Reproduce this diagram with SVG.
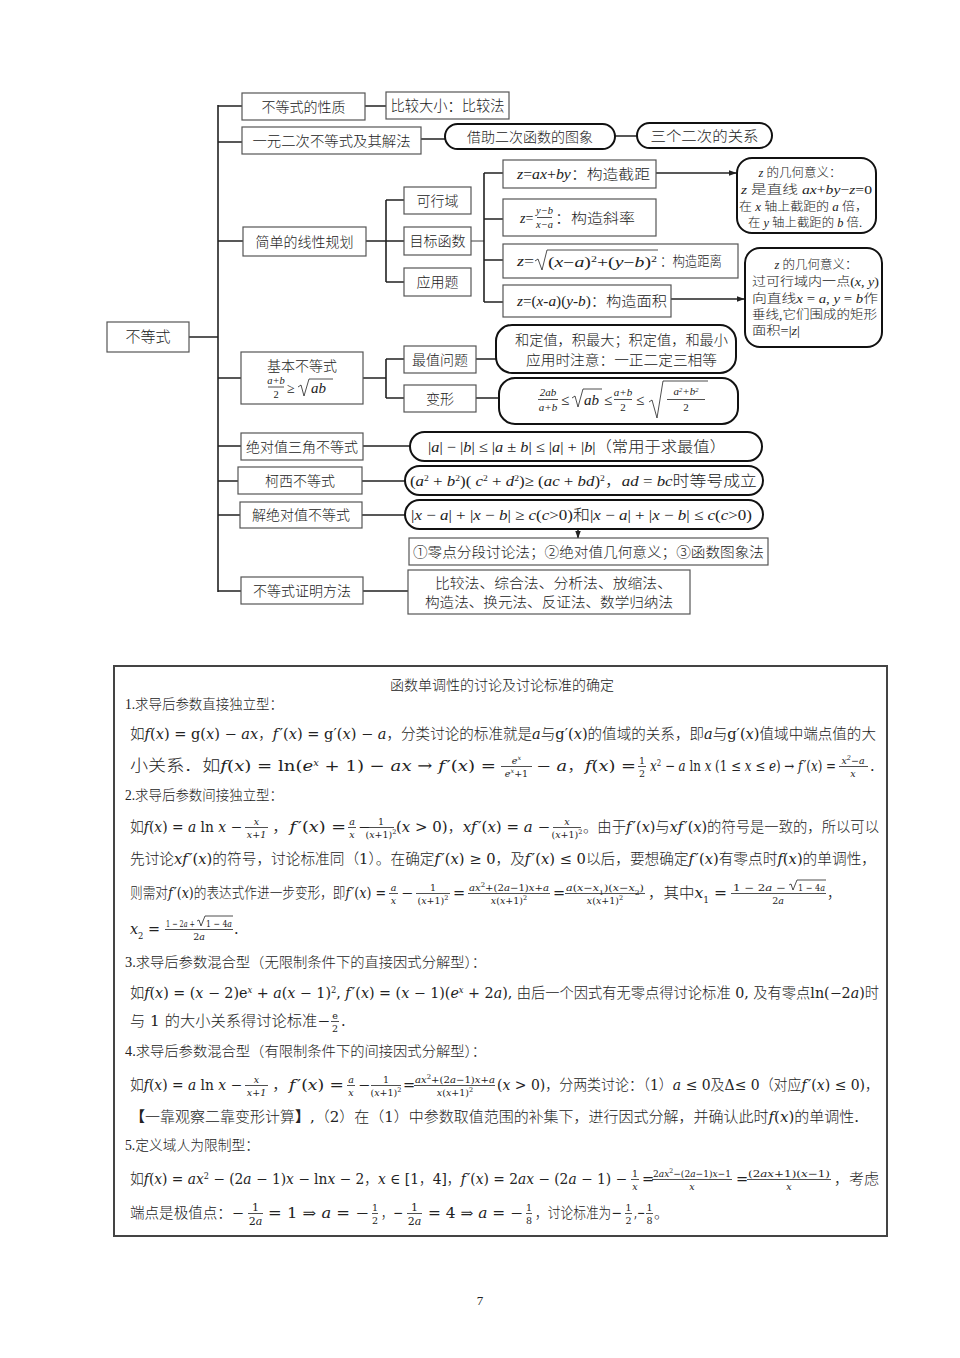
<svg xmlns="http://www.w3.org/2000/svg" width="960" height="1358" viewBox="0 0 960 1358">
<defs>
<marker id="ah" viewBox="0 0 10 10" refX="9" refY="5" markerWidth="8" markerHeight="8" orient="auto" markerUnits="userSpaceOnUse"><path d="M0,1.5 L10,5 L0,8.5 z" fill="#222"/></marker>
<style>
text{font-family:"Liberation Serif","Noto Sans CJK SC",serif;fill:#222;font-weight:300}
.tr{font-size:14px}
.c{text-anchor:middle}
.b{font-family:"DejaVu Serif","Noto Sans CJK SC",serif;font-size:14.5px}
.h{font-size:14px}
.f{font-family:"DejaVu Serif","Noto Sans CJK SC",serif;font-size:9.5px;text-anchor:middle}
.fs{font-family:"DejaVu Serif","Noto Sans CJK SC",serif;font-size:9.5px;text-anchor:start}
.fl{font-family:"DejaVu Serif","Noto Sans CJK SC",serif;font-size:11px;text-anchor:middle}
.tf{font-size:10.5px;text-anchor:middle}
.tf2{font-size:11px;text-anchor:middle}
.n{font-size:12.5px}
.i{font-style:italic}
.sp{font-size:8.5px;baseline-shift:super}
.sq{font-size:6.5px;baseline-shift:super}
.sb{font-size:8.5px;baseline-shift:sub}
.sbq{font-size:6.5px;baseline-shift:sub}
.bx{fill:#fff;stroke:#555;stroke-width:1.2}
.pl{fill:#fff;stroke:#111;stroke-width:2}
.ln{stroke:#222;stroke-width:1.6;fill:none}
.br{stroke:#222;stroke-width:0.8;fill:none}
.bd{font-weight:bold}
</style>
</defs>
<rect width="960" height="1358" fill="#fff"/>

<g id="connectors">
<path class="ln" d="M189 337 H218 M218 105 V592"/>
<path class="ln" d="M218 106 H242 M365 106 H386"/>
<path class="ln" d="M218 142 H242 M421 139 H445 M615 136 H637"/>
<path class="ln" d="M218 241 H243 M366 241 H404 M386 200 V282 M386 200 H404 M386 282 H404"/>
<path d="M471 241 H484" stroke="#888" stroke-width="1.6" fill="none"/>
<path class="ln" d="M484 173 V302 M484 173 H503 M484 219 H503 M484 260 H503 M484 302 H503"/>
<path class="ln" d="M656 173 H736" marker-end="url(#ah)"/>
<path class="ln" d="M671 299 H744" marker-end="url(#ah)"/>
<path class="ln" d="M218 378 H241 M363 378 H386 M386 359 V398 M386 359 H404 M386 398 H404 M476 359 H496 M476 398 H499"/>
<path class="ln" d="M218 446 H241 M363 446 H410"/>
<path class="ln" d="M218 481 H238 M362 481 H405"/>
<path class="ln" d="M218 515 H240 M362 515 H405"/>
<path class="ln" d="M578 529 V538" marker-end="url(#ah)"/>
<path class="ln" d="M218 591 H241 M363 591 H408"/>
</g>

<g id="n-root"><rect class="bx" x="107" y="322" width="82" height="30"/><text class="c" x="148" y="342" font-size="15">不等式</text></g>
<g id="n-xingzhi"><rect class="bx" x="242" y="93" width="123" height="27"/><text class="tr c" x="303.5" y="111.5">不等式的性质</text></g>
<g id="n-bijiao"><rect class="bx" x="386" y="92" width="123" height="27"/><text class="c" x="447.5" y="110.5" font-size="15" textLength="114" lengthAdjust="spacingAndGlyphs">比较大小：比较法</text></g>
<g id="n-yiyuan"><rect class="bx" x="242" y="127" width="179" height="27"/><text class="tr c" x="331.5" y="145.5" textLength="158" lengthAdjust="spacingAndGlyphs">一元二次不等式及其解法</text></g>
<g id="n-jiezhu"><rect class="pl" x="445" y="124" width="170" height="25" rx="12.5"/><text class="tr c" x="530" y="141.5">借助二次函数的图象</text></g>
<g id="n-sange"><rect class="pl" x="637" y="123" width="135" height="25" rx="12.5"/><text class="tr c" x="704.5" y="140.5" textLength="108" lengthAdjust="spacingAndGlyphs">三个二次的关系</text></g>
<g id="n-xianxing"><rect class="bx" x="243" y="227" width="123" height="29"/><text class="tr c" x="304.5" y="246.5">简单的线性规划</text></g>
<g id="n-kexing"><rect class="bx" x="404" y="187" width="67" height="27"/><text class="tr c" x="437.5" y="205.5">可行域</text></g>
<g id="n-mubiao"><rect class="bx" x="404" y="227" width="67" height="28"/><text class="tr c" x="437.5" y="246">目标函数</text></g>
<g id="n-yingyong"><rect class="bx" x="404" y="268" width="67" height="28"/><text class="tr c" x="437.5" y="287">应用题</text></g>

<g id="n-z1"><rect class="bx" x="503" y="160" width="153" height="28"/><text class="tr" x="517" y="179" textLength="133" lengthAdjust="spacingAndGlyphs"><tspan class="i">z</tspan>=<tspan class="i">ax</tspan>+<tspan class="i">by</tspan>：构造截距</text></g>
<g id="n-z2"><rect class="bx" x="503" y="199" width="153" height="37"/><text class="tr" x="520" y="223"><tspan class="i">z</tspan>=</text><text class="tf i" x="544.5" y="214">y−b</text><line class="br" x1="537" x2="552" y1="217.5" y2="217.5"/><text class="tf i" x="544.5" y="228">x−a</text><text class="tr" x="555" y="223" textLength="80" lengthAdjust="spacingAndGlyphs">：构造斜率</text></g>
<g id="n-z3"><rect class="bx" x="503" y="244" width="235" height="34"/><text class="tr" x="517" y="266" textLength="17" lengthAdjust="spacingAndGlyphs"><tspan class="i">z</tspan>=</text><path class="br" d="M535 261 L538 259 L542 270 L547 250 H658" stroke-width="1"/><text class="tr" x="548" y="267" textLength="109" lengthAdjust="spacingAndGlyphs">(<tspan class="i">x</tspan>−<tspan class="i">a</tspan>)<tspan class="sp">2</tspan>+(<tspan class="i">y</tspan>−<tspan class="i">b</tspan>)<tspan class="sp">2</tspan></text><text class="tr" x="660" y="266" textLength="62" lengthAdjust="spacingAndGlyphs">：构造距离</text></g>
<g id="n-z4"><rect class="bx" x="503" y="285" width="168" height="32"/><text class="tr" x="517" y="306" textLength="150" lengthAdjust="spacingAndGlyphs"><tspan class="i">z</tspan>=(<tspan class="i">x-a</tspan>)(<tspan class="i">y-b</tspan>)：构造面积</text></g>

<g id="n-note1"><rect class="pl" x="737" y="158" width="139" height="75" rx="15"/>
<text class="n c" x="800" y="177"><tspan class="i">z</tspan> 的几何意义：</text>
<text class="n" x="741" y="194" textLength="131" lengthAdjust="spacingAndGlyphs"><tspan class="i">z</tspan> 是直线 <tspan class="i">ax</tspan>+<tspan class="i">by</tspan>−<tspan class="i">z</tspan>=0</text>
<text class="n" x="739" y="211" textLength="129" lengthAdjust="spacingAndGlyphs">在 <tspan class="i">x</tspan> 轴上截距的 <tspan class="i">a</tspan> 倍，</text>
<text class="n" x="748" y="227" textLength="114" lengthAdjust="spacingAndGlyphs">在 <tspan class="i">y</tspan> 轴上截距的 <tspan class="i">b</tspan> 倍.</text></g>

<g id="n-note2"><rect class="pl" x="745" y="248" width="137" height="99" rx="15"/>
<text class="n c" x="816" y="269"><tspan class="i">z</tspan> 的几何意义：</text>
<text class="n" x="752" y="286" textLength="127" lengthAdjust="spacingAndGlyphs">过可行域内一点(<tspan class="i">x</tspan>, <tspan class="i">y</tspan>)</text>
<text class="n" x="752" y="303" textLength="126" lengthAdjust="spacingAndGlyphs">向直线<tspan class="i">x</tspan> = <tspan class="i">a</tspan>, <tspan class="i">y</tspan> = <tspan class="i">b</tspan>作</text>
<text class="n" x="752" y="319" textLength="125" lengthAdjust="spacingAndGlyphs">垂线,它们围成的矩形</text>
<text class="n" x="752" y="335" textLength="48" lengthAdjust="spacingAndGlyphs">面积=|<tspan class="i">z</tspan>|</text></g>

<g id="n-jiben"><rect class="bx" x="241" y="352" width="122" height="52"/><text class="tr c" x="302" y="371">基本不等式</text>
<text class="tf i" x="276" y="384">a+b</text><line class="br" x1="268" x2="284" y1="387" y2="387"/><text class="tf" x="276" y="398">2</text>
<text x="287" y="393" font-size="14">≥</text><path class="br" d="M298 387 L301 385 L304 396 L309 379 H333" stroke-width="1"/><text class="i" x="311" y="393" font-size="15">ab</text></g>
<g id="n-zuizhi"><rect class="bx" x="404" y="346" width="72" height="27"/><text class="tr c" x="440" y="364.5">最值问题</text></g>
<g id="n-bianxing"><rect class="bx" x="404" y="385" width="72" height="27"/><text class="tr c" x="440" y="403.5">变形</text></g>
<g id="n-hedingzhi"><rect class="pl" x="496" y="325" width="240" height="48" rx="16"/>
<text class="tr" x="515" y="345" textLength="213" lengthAdjust="spacingAndGlyphs">和定值，积最大；积定值，和最小</text>
<text class="tr" x="526" y="365" textLength="191" lengthAdjust="spacingAndGlyphs">应用时注意：一正二定三相等</text></g>
<g id="n-bianxingf"><rect class="pl" x="499" y="378" width="239" height="46" rx="16"/>
<text class="tf2 i" x="548" y="396">2ab</text><line class="br" x1="538" x2="558" y1="399.5" y2="399.5"/><text class="tf2 i" x="548" y="411">a+b</text>
<text x="561" y="405" font-size="15">≤</text>
<path class="br" d="M572 398 L575 396 L578 407 L583 389 H602" stroke-width="1"/><text class="i" x="584" y="405" font-size="15">ab</text>
<text x="604" y="405" font-size="15">≤</text>
<text class="tf2 i" x="623" y="396">a+b</text><line class="br" x1="614" x2="632" y1="399.5" y2="399.5"/><text class="tf2" x="623" y="411">2</text>
<text x="636" y="405" font-size="15">≤</text>
<path class="br" d="M649 402 L652 400 L657 418 L663 381 H708" stroke-width="1"/>
<text class="tf2 i" x="686" y="395">a<tspan class="sq">2</tspan>+b<tspan class="sq">2</tspan></text><line class="br" x1="667" x2="705" y1="399.5" y2="399.5"/><text class="tf2" x="686" y="411">2</text></g>

<g id="n-sanjiao"><rect class="bx" x="241" y="433" width="122" height="27"/><text class="tr c" x="302" y="451.5">绝对值三角不等式</text></g>
<g id="n-sanjiaof"><rect class="pl" x="410" y="432" width="352" height="29" rx="14.5"/><text x="428" y="451.5" font-size="15" textLength="298" lengthAdjust="spacingAndGlyphs">|<tspan class="i">a</tspan>| − |<tspan class="i">b</tspan>| ≤ |<tspan class="i">a</tspan> ± <tspan class="i">b</tspan>| ≤ |<tspan class="i">a</tspan>| + |<tspan class="i">b</tspan>|（常用于求最值）</text></g>
<g id="n-kexi"><rect class="bx" x="238" y="467" width="124" height="27"/><text class="tr c" x="300" y="485.5">柯西不等式</text></g>
<g id="n-kexif"><rect class="pl" x="405" y="466" width="358" height="29" rx="14.5"/><text x="410" y="486" font-size="15" textLength="347" lengthAdjust="spacingAndGlyphs">(<tspan class="i">a</tspan><tspan class="sp">2</tspan> + <tspan class="i">b</tspan><tspan class="sp">2</tspan>)( <tspan class="i">c</tspan><tspan class="sp">2</tspan> + <tspan class="i">d</tspan><tspan class="sp">2</tspan>)≥ (<tspan class="i">ac</tspan> + <tspan class="i">bd</tspan>)<tspan class="sp">2</tspan>，<tspan class="i">ad</tspan> = <tspan class="i">bc</tspan>时等号成立</text></g>
<g id="n-jiejue"><rect class="bx" x="240" y="502" width="122" height="26"/><text class="tr c" x="301" y="520">解绝对值不等式</text></g>
<g id="n-jiejuef"><rect class="pl" x="405" y="500" width="358" height="29" rx="14.5"/><text x="411" y="520" font-size="15" textLength="341" lengthAdjust="spacingAndGlyphs">|<tspan class="i">x</tspan> − <tspan class="i">a</tspan>| + |<tspan class="i">x</tspan> − <tspan class="i">b</tspan>| ≥ <tspan class="i">c</tspan>(<tspan class="i">c</tspan>&gt;0)和|<tspan class="i">x</tspan> − <tspan class="i">a</tspan>| + |<tspan class="i">x</tspan> − <tspan class="i">b</tspan>| ≤ <tspan class="i">c</tspan>(<tspan class="i">c</tspan>&gt;0)</text></g>
<g id="n-fangfa"><rect class="bx" x="409" y="538" width="359" height="27"/><text class="tr" x="413" y="556.5" textLength="351" lengthAdjust="spacingAndGlyphs">①零点分段讨论法；②绝对值几何意义；③函数图象法</text></g>
<g id="n-zhengming"><rect class="bx" x="241" y="577" width="122" height="27"/><text class="tr c" x="302" y="595.5">不等式证明方法</text></g>
<g id="n-zhengmingf"><rect class="bx" x="408" y="570" width="282" height="44"/>
<text class="tr" x="435" y="588" textLength="237" lengthAdjust="spacingAndGlyphs">比较法、综合法、分析法、放缩法、</text>
<text class="tr" x="425" y="607" textLength="248" lengthAdjust="spacingAndGlyphs">构造法、换元法、反证法、数学归纳法</text></g>

<g id="panel">
<rect x="114" y="666" width="773" height="570" fill="none" stroke="#444" stroke-width="2"/>
<text class="h c" x="502" y="690">函数单调性的讨论及讨论标准的确定</text>
<text class="h" x="125" y="709" textLength="158" lengthAdjust="spacingAndGlyphs">1.求导后参数直接独立型：</text>
<text class="b" x="130" y="739" textLength="746" lengthAdjust="spacingAndGlyphs">如<tspan class="i">f</tspan>(<tspan class="i">x</tspan>) = g(<tspan class="i">x</tspan>) − <tspan class="i">ax</tspan>，<tspan class="i">f</tspan><tspan dx="1.5">′</tspan>(<tspan class="i">x</tspan>) = g′(<tspan class="i">x</tspan>) − <tspan class="i">a</tspan>，分类讨论的标准就是<tspan class="i">a</tspan>与g′(<tspan class="i">x</tspan>)的值域的关系，即<tspan class="i">a</tspan>与g′(<tspan class="i">x</tspan>)值域中端点值的大</text>

<text class="b" x="130" y="771" style="font-size:15.5px" textLength="366" lengthAdjust="spacingAndGlyphs">小关系．如<tspan class="i">f</tspan>(<tspan class="i">x</tspan>) = ln(<tspan class="i">e</tspan><tspan class="sp i">x</tspan> + 1) − <tspan class="i">ax</tspan> → <tspan class="i">f</tspan><tspan dx="1.5">′</tspan>(<tspan class="i">x</tspan>) =</text>
<text class="f i" x="516.5" y="763.5">e<tspan class="sq">x</tspan></text><line class="br" x1="501" x2="532" y1="766.5" y2="766.5"/><text class="f" x="516.5" y="776.5"><tspan class="i">e</tspan><tspan class="sq i">x</tspan>+1</text>
<text class="b" x="536" y="771" textLength="100" lengthAdjust="spacingAndGlyphs">− <tspan class="i">a</tspan>，<tspan class="i">f</tspan>(<tspan class="i">x</tspan>) =</text>
<text class="f" x="642" y="763.5">1</text><line class="br" x1="638" x2="646" y1="766.5" y2="766.5"/><text class="f" x="642" y="776.5">2</text>
<text class="b" x="650" y="771" textLength="186" lengthAdjust="spacingAndGlyphs"><tspan class="i">x</tspan><tspan class="sp">2</tspan> − <tspan class="i">a</tspan> ln <tspan class="i">x</tspan> (1 ≤ <tspan class="i">x</tspan> ≤ <tspan class="i">e</tspan>) → <tspan class="i">f</tspan><tspan dx="1.5">′</tspan>(<tspan class="i">x</tspan>) =</text>
<text class="f i" x="853" y="763.5">x<tspan class="sq">2</tspan>−a</text><line class="br" x1="839" x2="868" y1="766.5" y2="766.5"/><text class="f i" x="853" y="776.5">x</text>
<text class="b" x="870" y="771">.</text>

<text class="h" x="125" y="800" textLength="158" lengthAdjust="spacingAndGlyphs">2.求导后参数间接独立型：</text>
<text class="b" x="130" y="832" textLength="112" lengthAdjust="spacingAndGlyphs">如<tspan class="i">f</tspan>(<tspan class="i">x</tspan>) = <tspan class="i">a</tspan> ln <tspan class="i">x</tspan> −</text>
<text class="f i" x="256.5" y="824.5">x</text><line class="br" x1="245" x2="268" y1="827.5" y2="827.5"/><text class="f i" x="256.5" y="837.5">x+1</text>
<text class="b" x="272" y="832" textLength="74" lengthAdjust="spacingAndGlyphs">，<tspan class="i">f</tspan><tspan dx="1.5">′</tspan>(<tspan class="i">x</tspan>) =</text>
<text class="f i" x="352" y="824.5">a</text><line class="br" x1="348" x2="356" y1="827.5" y2="827.5"/><text class="f i" x="352" y="837.5">x</text>
<text class="b" x="358" y="832">−</text>
<text class="f" x="381" y="824.5">1</text><line class="br" x1="368" x2="394" y1="827.5" y2="827.5"/><text class="f" x="381" y="837.5">(<tspan class="i">x</tspan>+1)<tspan class="sq">2</tspan></text>
<text class="b" x="396" y="832" textLength="154" lengthAdjust="spacingAndGlyphs">(<tspan class="i">x</tspan> &gt; 0)，<tspan class="i">xf</tspan><tspan dx="1.5">′</tspan>(<tspan class="i">x</tspan>) = <tspan class="i">a</tspan> −</text>
<text class="f i" x="567" y="824.5">x</text><line class="br" x1="553" x2="581" y1="827.5" y2="827.5"/><text class="f" x="567" y="837.5">(<tspan class="i">x</tspan>+1)<tspan class="sq">2</tspan></text>
<text class="b" x="583" y="832" textLength="296" lengthAdjust="spacingAndGlyphs">。由于<tspan class="i">f</tspan><tspan dx="1.5">′</tspan>(<tspan class="i">x</tspan>)与<tspan class="i">xf</tspan><tspan dx="1.5">′</tspan>(<tspan class="i">x</tspan>)的符号是一致的，所以可以</text>

<text class="b" x="130" y="864" textLength="746" lengthAdjust="spacingAndGlyphs">先讨论<tspan class="i">xf</tspan><tspan dx="1.5">′</tspan>(<tspan class="i">x</tspan>)的符号，讨论标准同（1）。在确定<tspan class="i">f</tspan><tspan dx="1.5">′</tspan>(<tspan class="i">x</tspan>) ≥ 0，及<tspan class="i">f</tspan><tspan dx="1.5">′</tspan>(<tspan class="i">x</tspan>) ≤ 0以后，要想确定<tspan class="i">f</tspan><tspan dx="1.5">′</tspan>(<tspan class="i">x</tspan>)有零点时<tspan class="i">f</tspan>(<tspan class="i">x</tspan>)的单调性，</text>

<text class="b" x="130" y="898" textLength="256" lengthAdjust="spacingAndGlyphs">则需对<tspan class="i">f</tspan><tspan dx="1.5">′</tspan>(<tspan class="i">x</tspan>)的表达式作进一步变形，即<tspan class="i">f</tspan><tspan dx="1.5">′</tspan>(<tspan class="i">x</tspan>) =</text>
<text class="f i" x="393.5" y="890.5">a</text><line class="br" x1="389" x2="398" y1="893.5" y2="893.5"/><text class="f i" x="393.5" y="903.5">x</text>
<text class="b" x="401" y="898">−</text>
<text class="f" x="433" y="890.5">1</text><line class="br" x1="416" x2="450" y1="893.5" y2="893.5"/><text class="f" x="433" y="903.5">(<tspan class="i">x</tspan>+1)<tspan class="sq">2</tspan></text>
<text class="b" x="453" y="898">=</text>
<text class="f" x="509" y="890.5" textLength="80" lengthAdjust="spacingAndGlyphs"><tspan class="i">ax</tspan><tspan class="sq">2</tspan>+(2<tspan class="i">a</tspan>−1)<tspan class="i">x</tspan>+<tspan class="i">a</tspan></text><line class="br" x1="468" x2="550" y1="893.5" y2="893.5"/><text class="f" x="509" y="903.5"><tspan class="i">x</tspan>(<tspan class="i">x</tspan>+1)<tspan class="sq">2</tspan></text>
<text class="b" x="553" y="898">=</text>
<text class="f" x="605" y="890.5" textLength="78" lengthAdjust="spacingAndGlyphs"><tspan class="i">a</tspan>(<tspan class="i">x</tspan>−<tspan class="i">x</tspan><tspan class="sbq">1</tspan>)(<tspan class="i">x</tspan>−<tspan class="i">x</tspan><tspan class="sbq">2</tspan>)</text><line class="br" x1="565" x2="645" y1="893.5" y2="893.5"/><text class="f" x="605" y="903.5"><tspan class="i">x</tspan>(<tspan class="i">x</tspan>+1)<tspan class="sq">2</tspan></text>
<text class="b" x="648" y="898" textLength="79" lengthAdjust="spacingAndGlyphs">，其中<tspan class="i">x</tspan><tspan class="sb">1</tspan> =</text>
<text class="fs" x="733" y="890.5" textLength="53" lengthAdjust="spacingAndGlyphs">1 − 2<tspan class="i">a</tspan> −</text><path class="br" d="M789 885 L791 884 L793 890 L797 880 H826"/><text class="fs" x="798" y="890.5" textLength="27" lengthAdjust="spacingAndGlyphs">1 − 4<tspan class="i">a</tspan></text>
<line class="br" x1="731" x2="826" y1="893.5" y2="893.5"/><text class="f" x="778" y="903.5">2<tspan class="i">a</tspan></text>
<text class="b" x="827" y="898">，</text>

<text class="b" x="130" y="934" textLength="30" lengthAdjust="spacingAndGlyphs"><tspan class="i">x</tspan><tspan class="sb">2</tspan> =</text>
<text class="fs" x="166" y="926.5" textLength="29" lengthAdjust="spacingAndGlyphs">1 − 2<tspan class="i">a</tspan> +</text><path class="br" d="M197 921 L199 920 L201 926 L205 916 H233"/><text class="fs" x="206" y="926.5" textLength="26" lengthAdjust="spacingAndGlyphs">1 − 4<tspan class="i">a</tspan></text>
<line class="br" x1="165" x2="233" y1="929.5" y2="929.5"/><text class="f" x="199" y="939.5">2<tspan class="i">a</tspan></text>
<text class="b" x="234" y="934">.</text>

<text class="h" x="125" y="967" textLength="361" lengthAdjust="spacingAndGlyphs">3.求导后参数混合型（无限制条件下的直接因式分解型）：</text>
<text class="b" x="130" y="998" textLength="749" lengthAdjust="spacingAndGlyphs">如<tspan class="i">f</tspan>(<tspan class="i">x</tspan>) = (<tspan class="i">x</tspan> − 2)e<tspan class="sp i">x</tspan> + <tspan class="i">a</tspan>(<tspan class="i">x</tspan> − 1)<tspan class="sp">2</tspan>, <tspan class="i">f</tspan><tspan dx="1.5">′</tspan>(<tspan class="i">x</tspan>) = (<tspan class="i">x</tspan> − 1)(<tspan class="i">e</tspan><tspan class="sp i">x</tspan> + 2<tspan class="i">a</tspan>), 由后一个因式有无零点得讨论标准 0, 及有零点ln(−2<tspan class="i">a</tspan>)时</text>
<text class="b" x="130" y="1026" textLength="200" lengthAdjust="spacingAndGlyphs">与 1 的大小关系得讨论标准−</text>
<text class="f" x="335" y="1018.5">e</text><line class="br" x1="331" x2="339" y1="1021.5" y2="1021.5"/><text class="f" x="335" y="1031.5">2</text>
<text class="b" x="341" y="1026">.</text>

<text class="h" x="125" y="1056" textLength="361" lengthAdjust="spacingAndGlyphs">4.求导后参数混合型（有限制条件下的间接因式分解型）：</text>
<text class="b" x="130" y="1090" textLength="112" lengthAdjust="spacingAndGlyphs">如<tspan class="i">f</tspan>(<tspan class="i">x</tspan>) = <tspan class="i">a</tspan> ln <tspan class="i">x</tspan> −</text>
<text class="f i" x="256.5" y="1082.5">x</text><line class="br" x1="245" x2="268" y1="1085.5" y2="1085.5"/><text class="f i" x="256.5" y="1095.5">x+1</text>
<text class="b" x="272" y="1090" textLength="72" lengthAdjust="spacingAndGlyphs">，<tspan class="i">f</tspan><tspan dx="1.5">′</tspan>(<tspan class="i">x</tspan>) =</text>
<text class="f i" x="351" y="1082.5">a</text><line class="br" x1="347" x2="355" y1="1085.5" y2="1085.5"/><text class="f i" x="351" y="1095.5">x</text>
<text class="b" x="358" y="1090">−</text>
<text class="f" x="386" y="1082.5">1</text><line class="br" x1="371" x2="401" y1="1085.5" y2="1085.5"/><text class="f" x="386" y="1095.5">(<tspan class="i">x</tspan>+1)<tspan class="sq">2</tspan></text>
<text class="b" x="403" y="1090">=</text>
<text class="f" x="455" y="1082.5" textLength="80" lengthAdjust="spacingAndGlyphs"><tspan class="i">ax</tspan><tspan class="sq">2</tspan>+(2<tspan class="i">a</tspan>−1)<tspan class="i">x</tspan>+<tspan class="i">a</tspan></text><line class="br" x1="414" x2="495" y1="1085.5" y2="1085.5"/><text class="f" x="455" y="1095.5"><tspan class="i">x</tspan>(<tspan class="i">x</tspan>+1)<tspan class="sq">2</tspan></text>
<text class="b" x="497" y="1090" textLength="382" lengthAdjust="spacingAndGlyphs">(<tspan class="i">x</tspan> &gt; 0)，分两类讨论：（1）<tspan class="i">a</tspan> ≤ 0及Δ≤ 0（对应<tspan class="i">f</tspan><tspan dx="1.5">′</tspan>(<tspan class="i">x</tspan>) ≤ 0)，</text>
<text class="b" x="130" y="1122" textLength="729" lengthAdjust="spacingAndGlyphs"><tspan class="bd">【</tspan>一靠观察二靠变形计算<tspan class="bd">】</tspan>,（2）在（1）中参数取值范围的补集下，进行因式分解，并确认此时<tspan class="i">f</tspan>(<tspan class="i">x</tspan>)的单调性.</text>

<text class="h" x="125" y="1150" textLength="134" lengthAdjust="spacingAndGlyphs">5.定义域人为限制型：</text>
<text class="b" x="130" y="1184" textLength="497" lengthAdjust="spacingAndGlyphs">如<tspan class="i">f</tspan>(<tspan class="i">x</tspan>) = <tspan class="i">ax</tspan><tspan class="sp">2</tspan> − (2<tspan class="i">a</tspan> − 1)<tspan class="i">x</tspan> − ln<tspan class="i">x</tspan> − 2，<tspan class="i">x</tspan> ∈ [1，4]，<tspan class="i">f</tspan><tspan dx="1.5">′</tspan>(<tspan class="i">x</tspan>) = 2<tspan class="i">ax</tspan> − (2<tspan class="i">a</tspan> − 1) −</text>
<text class="f" x="635" y="1176.5">1</text><line class="br" x1="631" x2="639" y1="1179.5" y2="1179.5"/><text class="f i" x="635" y="1189.5">x</text>
<text class="b" x="642" y="1184">=</text>
<text class="f" x="692" y="1176.5" textLength="78" lengthAdjust="spacingAndGlyphs">2<tspan class="i">ax</tspan><tspan class="sq">2</tspan>−(2<tspan class="i">a</tspan>−1)<tspan class="i">x</tspan>−1</text><line class="br" x1="652" x2="732" y1="1179.5" y2="1179.5"/><text class="f i" x="692" y="1189.5">x</text>
<text class="b" x="736" y="1184">=</text>
<text class="f" x="789" y="1176.5" textLength="82" lengthAdjust="spacingAndGlyphs">(2<tspan class="i">ax</tspan>+1)(<tspan class="i">x</tspan>−1)</text><line class="br" x1="747" x2="831" y1="1179.5" y2="1179.5"/><text class="f i" x="789" y="1189.5">x</text>
<text class="b" x="834" y="1184" textLength="45" lengthAdjust="spacingAndGlyphs">，考虑</text>

<text class="b" x="130" y="1218" textLength="114" lengthAdjust="spacingAndGlyphs">端点是极值点：−</text>
<text class="fl" x="255.5" y="1210.5">1</text><line class="br" x1="248" x2="263" y1="1213.5" y2="1213.5"/><text class="fl" x="255.5" y="1225">2<tspan class="i">a</tspan></text>
<text class="b" x="268" y="1218" textLength="101" lengthAdjust="spacingAndGlyphs">= 1 ⇒ <tspan class="i">a</tspan> = −</text>
<text class="f" x="375" y="1210.5">1</text><line class="br" x1="372" x2="378" y1="1213.5" y2="1213.5"/><text class="f" x="375" y="1224">2</text>
<text class="b" x="381" y="1218" textLength="22" lengthAdjust="spacingAndGlyphs">，−</text>
<text class="fl" x="414.5" y="1210.5">1</text><line class="br" x1="407" x2="422" y1="1213.5" y2="1213.5"/><text class="fl" x="414.5" y="1225">2<tspan class="i">a</tspan></text>
<text class="b" x="428" y="1218" textLength="95" lengthAdjust="spacingAndGlyphs">= 4 ⇒ <tspan class="i">a</tspan> = −</text>
<text class="f" x="529" y="1210.5">1</text><line class="br" x1="526" x2="532" y1="1213.5" y2="1213.5"/><text class="f" x="529" y="1224">8</text>
<text class="b" x="535" y="1218" textLength="87" lengthAdjust="spacingAndGlyphs">，讨论标准为−</text>
<text class="f" x="628.5" y="1210.5">1</text><line class="br" x1="625" x2="632" y1="1213.5" y2="1213.5"/><text class="f" x="628.5" y="1224">2</text>
<text class="b" x="634" y="1218" textLength="11" lengthAdjust="spacingAndGlyphs">,−</text>
<text class="f" x="649.5" y="1210.5">1</text><line class="br" x1="646" x2="653" y1="1213.5" y2="1213.5"/><text class="f" x="649.5" y="1224">8</text>
<text class="b" x="654" y="1218">。</text>
</g>

<text class="c" x="480" y="1305" font-size="13">7</text>
</svg>
